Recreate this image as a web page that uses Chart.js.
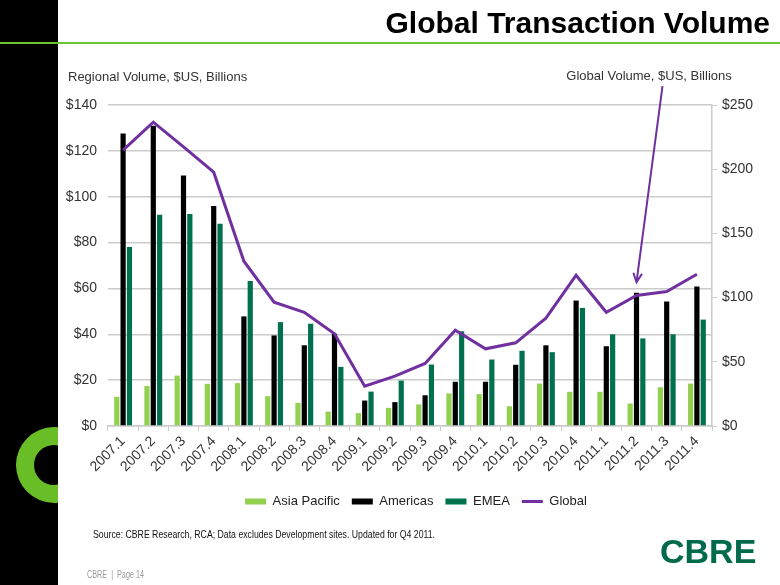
<!DOCTYPE html>
<html>
<head>
<meta charset="utf-8">
<script src="https://cdn.jsdelivr.net/npm/chart.js@4.4.1/dist/chart.umd.min.js"></script>
<style>
  html, body { margin: 0; padding: 0; background: #fff; }
  #wrap { position: relative; width: 780px; height: 585px; }
</style>
</head>
<body>
<div id="wrap"><canvas id="volumeChart"></canvas></div>
<script>
const quarters = ['2007.1', '2007.2', '2007.3', '2007.4', '2008.1', '2008.2', '2008.3', '2008.4',
  '2009.1', '2009.2', '2009.3', '2009.4', '2010.1', '2010.2', '2010.3', '2010.4',
  '2011.1', '2011.2', '2011.3', '2011.4'];

// regional volumes, $US billions (left axis)
const asiaPacific = [12.7, 17.4, 22.0, 18.4, 18.7, 13.0, 10.1, 6.3, 5.6, 7.9,
  9.4, 14.2, 13.9, 8.6, 18.5, 14.9, 14.9, 9.8, 16.9, 18.5];
const americas = [127.6, 131.0, 109.2, 95.9, 47.8, 39.5, 35.2, 40.2, 11.1, 10.4,
  13.4, 19.3, 19.3, 26.7, 35.2, 54.7, 34.8, 58.1, 54.3, 60.8];
const emea = [78.1, 92.1, 92.5, 88.2, 63.2, 45.3, 44.6, 25.8, 15.0, 19.8,
  26.8, 41.3, 29.0, 32.8, 32.2, 51.5, 40.0, 38.2, 40.0, 46.4];

// global volume, $US billions (right axis)
const globalVolume = [214.8, 236.6, 217.4, 197.7, 128.3, 96.4, 88.6, 71.8, 31.0, 38.8,
  48.7, 74.6, 60.1, 64.8, 84.0, 117.4, 88.6, 101.6, 104.7, 118.2];

const leftTicks = { min: 0, max: 140, step: 20 };
const rightTicks = { min: 0, max: 250, step: 50 };

const FONT = "'Liberation Sans', Arial, sans-serif";
Chart.defaults.font.family = FONT;

const slidePlugin = {
  id: 'slide',
  beforeDraw(chart) {
    const ctx = chart.ctx;
    ctx.save();
    ctx.fillStyle = '#fff';
    ctx.fillRect(0, 0, chart.width, chart.height);
    // black side stripe
    ctx.fillStyle = '#000';
    ctx.fillRect(0, 0, 58, chart.height);
    // green "C" ring, cut at the stripe edge
    ctx.beginPath();
    ctx.rect(0, 0, 58, chart.height);
    ctx.clip();
    ctx.beginPath();
    ctx.arc(54, 465, 38, 0, Math.PI * 2);
    ctx.arc(54, 465, 20, 0, Math.PI * 2, true);
    ctx.fillStyle = '#69BE28';
    ctx.fill();
    ctx.restore();

    ctx.save();
    ctx.fillStyle = '#6CC52F';
    ctx.fillRect(0, 42, chart.width, 2);
    ctx.restore();
  },
  afterDraw(chart) {
    const ctx = chart.ctx;
    ctx.save();
    ctx.textBaseline = 'alphabetic';

    ctx.fillStyle = '#000';
    ctx.font = 'bold 30px ' + FONT;
    ctx.textAlign = 'right';
    ctx.fillText('Global Transaction Volume', 770, 33);

    ctx.fillStyle = '#333';
    ctx.font = '13px ' + FONT;
    ctx.textAlign = 'left';
    ctx.fillText('Regional Volume, $US, Billions', 68, 81);
    ctx.textAlign = 'center';
    ctx.fillText('Global Volume, $US, Billions', 649, 80);

    ctx.fillStyle = '#111';
    ctx.font = '10.5px ' + FONT;
    ctx.textAlign = 'left';
    ctx.fillText('Source: CBRE Research, RCA; Data excludes Development sites. Updated for Q4 2011.', 93, 538, 342);

    ctx.fillStyle = '#9a9a9a';
    ctx.font = '10px ' + FONT;
    ctx.fillText('CBRE  |  Page 14', 87, 578, 57);

    ctx.fillStyle = '#006A4D';
    ctx.font = 'bold 34px ' + FONT;
    ctx.fillText('CBRE', 660, 563, 98);

    // arrow pointing at the 2011.2 global value
    const tipX = chart.scales.x.getPixelForValue(17);
    const tipY = chart.scales.y1.getPixelForValue(112);
    const sx = tipX + 26, sy = tipY - 196;
    ctx.strokeStyle = '#7030A0';
    ctx.lineWidth = 2;
    ctx.beginPath();
    ctx.moveTo(sx, sy);
    ctx.lineTo(tipX, tipY);
    const ang = Math.atan2(sy - tipY, sx - tipX);
    const len = 10, spread = 0.45;
    ctx.moveTo(tipX + len * Math.cos(ang - spread), tipY + len * Math.sin(ang - spread));
    ctx.lineTo(tipX, tipY);
    ctx.lineTo(tipX + len * Math.cos(ang + spread), tipY + len * Math.sin(ang + spread));
    ctx.stroke();
    ctx.restore();
  }
};

const gridColor = '#cbcbcb';
const tickColor = '#333';

new Chart(document.getElementById('volumeChart'), {
  type: 'bar',
  data: {
    labels: quarters,
    datasets: [
      { label: 'Asia Pacific', data: asiaPacific, backgroundColor: '#92D050', yAxisID: 'y', order: 1, pointStyle: 'rect' },
      { label: 'Americas', data: americas, backgroundColor: '#000000', yAxisID: 'y', order: 1, pointStyle: 'rect' },
      { label: 'EMEA', data: emea, backgroundColor: '#00704F', yAxisID: 'y', order: 1, pointStyle: 'rect' },
      {
        label: 'Global', type: 'line', data: globalVolume, yAxisID: 'y1', order: 0,
        borderColor: '#7030A0', backgroundColor: '#7030A0', borderWidth: 3,
        pointRadius: 0, tension: 0, pointStyle: 'line'
      }
    ]
  },
  options: {
    responsive: true,
    maintainAspectRatio: false,
    animation: false,
    datasets: { bar: { categoryPercentage: 0.63, barPercentage: 0.82 } },
    layout: { padding: { left: 60, right: 8, top: 105, bottom: 67 } },
    plugins: {
      tooltip: { enabled: false },
      legend: {
        position: 'bottom',
        labels: {
          usePointStyle: true,
          pointStyleWidth: 21,
          boxHeight: 6,
          padding: 12,
          color: '#222',
          font: { size: 13 },
          sort: (a, b) => a.datasetIndex - b.datasetIndex
        }
      }
    },
    scales: {
      x: {
        afterFit: (s) => { s.height = 57; },
        grid: { drawOnChartArea: false, drawTicks: true, tickLength: 5, color: gridColor },
        border: { display: true, color: gridColor, width: 1.5 },
        ticks: { autoSkip: false, minRotation: 45, maxRotation: 45, color: tickColor, font: { size: 14 }, padding: 2 }
      },
      y: {
        position: 'left',
        min: leftTicks.min, max: leftTicks.max,
        afterFit: (s) => { s.width = 48; },
        grid: { color: gridColor, lineWidth: 1.5, drawTicks: false },
        border: { display: false },
        ticks: { stepSize: leftTicks.step, padding: 11, color: tickColor, font: { size: 14 },
          callback: (v) => '$' + v }
      },
      y1: {
        position: 'right',
        min: rightTicks.min, max: rightTicks.max,
        afterFit: (s) => { s.width = 60; },
        grid: { drawOnChartArea: false, drawTicks: true, tickLength: 5, color: gridColor },
        border: { display: true, color: gridColor, width: 1.5 },
        ticks: { stepSize: rightTicks.step, padding: 5, color: tickColor, font: { size: 14 },
          callback: (v) => '$' + v }
      }
    }
  },
  plugins: [slidePlugin]
});
</script>
</body>
</html>
